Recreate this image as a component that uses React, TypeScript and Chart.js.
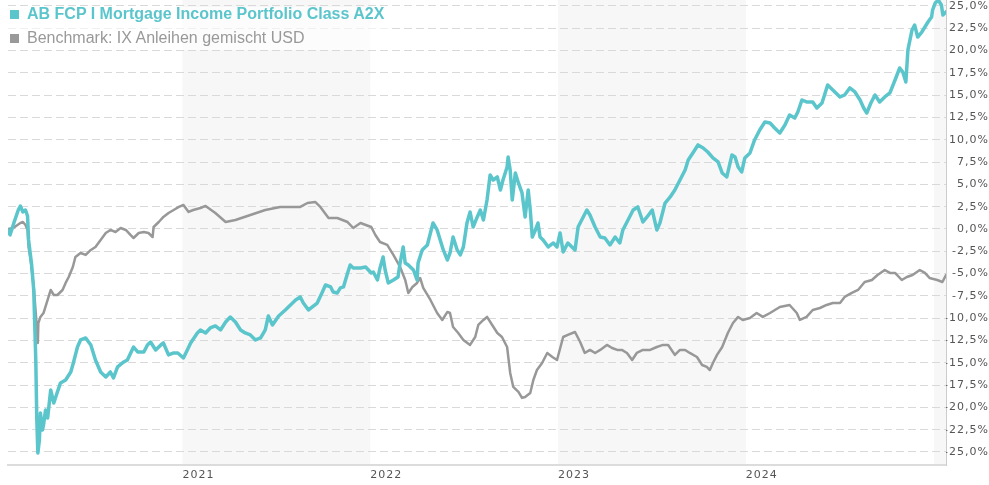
import React, { useEffect, useRef } from "react";
import { Chart, registerables } from "chart.js";

Chart.register(...registerables);

const fundName = "AB FCP I Mortgage Income Portfolio Class A2X";
const benchName = "Benchmark: IX Anleihen gemischt USD";

const fundDates = [
  "2020-01-28","2020-02-01","2020-02-09","2020-02-17","2020-02-21","2020-02-26","2020-03-02","2020-03-06","2020-03-08","2020-03-14",
  "2020-03-18","2020-03-22","2020-03-24","2020-03-26","2020-03-29","2020-03-31","2020-04-04","2020-04-06","2020-04-10","2020-04-14",
  "2020-04-20","2020-04-26","2020-05-03","2020-05-09","2020-05-19","2020-05-29","2020-06-03","2020-06-11","2020-06-17","2020-06-27",
  "2020-07-07","2020-07-16","2020-07-26","2020-08-05","2020-08-14","2020-08-20","2020-08-28","2020-09-09","2020-09-16","2020-09-28",
  "2020-10-06","2020-10-18","2020-10-25","2020-10-31","2020-11-10","2020-11-20","2020-11-25","2020-12-05","2020-12-15","2020-12-23",
  "2021-01-03","2021-01-17","2021-01-30","2021-02-05","2021-02-15","2021-02-24","2021-03-06","2021-03-16","2021-03-26","2021-04-04",
  "2021-04-14","2021-04-24","2021-05-03","2021-05-13","2021-05-23","2021-06-02","2021-06-11","2021-06-17","2021-06-25","2021-07-07",
  "2021-07-20","2021-07-30","2021-08-09","2021-08-18","2021-08-24","2021-09-03","2021-09-20","2021-09-30","2021-10-06","2021-10-16",
  "2021-10-21","2021-10-29","2021-11-04","2021-11-10","2021-11-18","2021-11-23","2021-11-29","2021-12-13","2021-12-23","2022-01-03",
  "2022-01-07","2022-01-15","2022-01-20","2022-01-26","2022-01-30","2022-02-05","2022-02-15","2022-02-24","2022-02-28","2022-03-06",
  "2022-03-10","2022-03-16","2022-03-26","2022-04-02","2022-04-04","2022-04-12","2022-04-22","2022-04-28","2022-05-03","2022-05-11",
  "2022-05-17","2022-05-23","2022-05-31","2022-06-05","2022-06-11","2022-06-19","2022-06-25","2022-07-01","2022-07-08","2022-07-14",
  "2022-07-20","2022-07-28","2022-08-03","2022-08-09","2022-08-16","2022-08-22","2022-08-28","2022-09-05","2022-09-11","2022-09-16",
  "2022-09-24","2022-09-26","2022-09-30","2022-10-04","2022-10-10","2022-10-16","2022-10-23","2022-10-29","2022-11-04","2022-11-08",
  "2022-11-12","2022-11-18","2022-11-23","2022-11-27","2022-12-03","2022-12-13","2022-12-23","2022-12-30","2023-01-05","2023-01-11",
  "2023-01-20","2023-02-03","2023-02-09","2023-02-19","2023-02-26","2023-03-04","2023-03-14","2023-03-24","2023-04-02","2023-04-12",
  "2023-04-22","2023-05-01","2023-05-07","2023-05-17","2023-05-27","2023-06-05","2023-06-15","2023-06-23","2023-07-03","2023-07-12",
  "2023-07-18","2023-07-28","2023-08-07","2023-08-16","2023-08-26","2023-09-05","2023-09-11","2023-09-20","2023-09-30","2023-10-10",
  "2023-10-19","2023-10-29","2023-11-08","2023-11-16","2023-11-25","2023-12-05","2023-12-11","2023-12-17","2023-12-24","2023-12-30",
  "2024-01-09","2024-01-18","2024-01-28","2024-02-07","2024-02-17","2024-02-26","2024-03-07","2024-03-17","2024-03-26","2024-04-05",
  "2024-04-11","2024-04-19","2024-04-28","2024-05-10","2024-05-18","2024-05-28","2024-06-08","2024-06-18","2024-07-02","2024-07-11",
  "2024-07-21","2024-07-31","2024-08-10","2024-08-17","2024-08-23","2024-08-31","2024-09-08","2024-09-17","2024-09-27","2024-10-07",
  "2024-10-17","2024-10-26","2024-11-01","2024-11-07","2024-11-11","2024-11-19","2024-11-24","2024-11-30","2024-12-08","2024-12-14",
  "2024-12-20","2024-12-27","2024-12-29","2025-01-03","2025-01-09","2025-01-15","2025-01-18","2025-01-24"
];

const fundValues = [
  -0.11, -0.67, 0.78, 2.13, 2.58, 1.91, 2.13, 1.46, -1.23, -4.04,
  -6.84, -14.69, -21.41, -25.11, -23.65, -20.63, -22.53, -21.97, -20.29, -21.19,
  -18.05, -19.51, -18.27, -17.26, -16.93, -16.03, -15.02, -13.23, -12.44, -12.22,
  -13.0, -14.69, -16.03, -16.59, -16.03, -16.7, -15.47, -14.91, -14.69, -13.23,
  -13.79, -13.79, -13.0, -12.67, -13.56, -13.0, -12.78, -14.12, -13.9, -13.9,
  -14.46, -12.78, -11.66, -11.32, -11.66, -11.1, -10.87, -11.32, -10.43, -9.87,
  -10.43, -11.32, -11.66, -11.88, -12.44, -12.22, -11.32, -9.75, -10.76, -9.75,
  -9.08, -8.52, -7.96, -7.62, -8.3, -9.08, -8.3, -7.06, -6.28, -6.5,
  -7.06, -7.17, -6.61, -6.5, -4.93, -4.04, -4.37, -4.37, -4.26, -4.93,
  -4.82, -5.72, -4.37, -3.14, -4.6, -6.05, -5.72, -5.38, -3.81, -2.02,
  -3.81, -4.04, -4.6, -5.72, -3.81, -2.35, -1.79, -0.45, 0.67, -0.11,
  -1.23, -2.35, -3.48, -2.69, -0.9, -2.35, -2.91, -2.02, 0.67, 1.91,
  0.22, 1.35, 2.13, 1.01, 3.25, 6.05, 5.49, 5.83, 4.37, 5.49,
  6.95, 8.07, 6.61, 3.25, 6.28, 5.16, 4.04, 1.35, 4.37, 2.13,
  -0.9, -0.11, 0.67, -0.9, -1.23, -2.02, -1.57, -2.02, -0.45, -2.58,
  -1.57, -2.35, 0.22, 1.35, 2.13, 1.57, 0.22, -0.9, -1.01, -1.79,
  -0.9, -1.57, -0.11, 1.01, 2.13, 2.47, 0.78, 1.35, 2.13, -0.11,
  0.67, 2.91, 3.59, 4.37, 5.49, 6.61, 7.73, 8.52, 9.42, 9.08,
  8.63, 7.96, 7.51, 6.28, 5.83, 8.3, 8.07, 6.95, 6.39, 7.96,
  8.52, 9.98, 11.1, 11.99, 11.88, 11.32, 10.76, 11.66, 12.78, 12.44,
  13.12, 14.46, 14.24, 14.24, 13.56, 14.12, 16.14, 15.58, 14.8, 15.02,
  15.81, 15.36, 14.46, 13.56, 13.0, 14.12, 15.02, 14.24, 14.8, 15.25,
  16.7, 18.05, 17.6, 16.48, 20.07, 22.31, 22.87, 21.52, 22.08, 22.64,
  23.2, 23.77, 24.55, 25.33, 25.67, 25.11, 23.99, 24.33
];

const benchDates = [
  "2020-01-28","2020-02-07","2020-02-21","2020-02-26","2020-03-02","2020-03-06","2020-03-08","2020-03-12","2020-03-18","2020-03-22",
  "2020-03-26","2020-03-27","2020-03-31","2020-04-06","2020-04-14","2020-04-20","2020-04-26","2020-05-03","2020-05-13","2020-05-19",
  "2020-05-25","2020-06-02","2020-06-07","2020-06-17","2020-06-27","2020-07-07","2020-07-16","2020-07-26","2020-08-05","2020-08-14",
  "2020-08-24","2020-09-03","2020-09-13","2020-09-22","2020-09-28","2020-10-08","2020-10-18","2020-10-27","2020-11-04","2020-11-06",
  "2020-11-16","2020-11-25","2020-12-05","2020-12-15","2020-12-25","2021-01-03","2021-01-13","2021-01-22","2021-02-05","2021-02-15",
  "2021-03-06","2021-03-26","2021-04-14","2021-05-13","2021-06-11","2021-07-10","2021-07-30","2021-08-18","2021-09-01","2021-09-16",
  "2021-09-26","2021-10-12","2021-10-29","2021-11-18","2021-11-29","2021-12-13","2022-01-03","2022-01-11","2022-01-20","2022-02-03",
  "2022-02-15","2022-02-28","2022-03-10","2022-03-16","2022-03-24","2022-04-02","2022-04-08","2022-04-14","2022-04-28","2022-05-11",
  "2022-05-21","2022-05-31","2022-06-05","2022-06-11","2022-06-21","2022-07-01","2022-07-14","2022-07-24","2022-07-30","2022-08-09",
  "2022-08-16","2022-08-26","2022-09-05","2022-09-14","2022-09-24","2022-09-30","2022-10-06","2022-10-16","2022-10-23","2022-10-29",
  "2022-11-08","2022-11-14","2022-11-21","2022-12-01","2022-12-11","2022-12-21","2022-12-30","2023-01-11","2023-01-20","2023-02-03",
  "2023-02-13","2023-02-22","2023-03-04","2023-03-14","2023-03-24","2023-04-06","2023-04-16","2023-04-26","2023-05-05","2023-05-15",
  "2023-05-25","2023-06-03","2023-06-15","2023-06-29","2023-07-12","2023-07-24","2023-08-03","2023-08-16","2023-08-26","2023-09-05",
  "2023-09-14","2023-09-28","2023-10-08","2023-10-17","2023-10-23","2023-10-29","2023-11-06","2023-11-16","2023-11-27","2023-12-07",
  "2023-12-17","2023-12-26","2024-01-09","2024-01-22","2024-02-03","2024-02-17","2024-03-07","2024-03-26","2024-04-09","2024-04-15",
  "2024-04-28","2024-05-10","2024-05-24","2024-06-06","2024-06-18","2024-07-02","2024-07-11","2024-07-25","2024-08-06","2024-08-19",
  "2024-09-02","2024-09-13","2024-09-27","2024-10-07","2024-10-17","2024-10-30","2024-11-09","2024-11-20","2024-12-04","2024-12-14",
  "2024-12-23","2025-01-07","2025-01-17","2025-01-24"
];

const benchValues = [
  0, 0.11, 0.67, 0.78, 0.45, -0.11, -2.02, -3.48, -6.5, -9.42,
  -12.78, -10.54, -9.86, -9.42, -7.96, -6.84, -7.4, -7.4, -6.84, -6.05,
  -5.38, -4.26, -3.14, -2.69, -2.91, -2.35, -2.02, -1.23, -0.45, -0.11,
  -0.34, 0.11, -0.11, -0.67, -1.01, -0.45, -0.34, -0.45, -0.9, 0.22,
  0.78, 1.35, 1.79, 2.13, 2.47, 2.69, 1.91, 2.13, 2.35, 2.58,
  1.79, 0.78, 1.01, 1.57, 2.13, 2.47, 2.47, 2.47, 2.91, 3.03,
  2.47, 1.23, 1.23, 0.78, 0.11, 0.67, 0.22, -0.67, -1.46, -1.79,
  -2.91, -4.26, -5.72, -7.17, -6.5, -6.05, -5.49, -6.61, -7.96, -9.42,
  -10.2, -9.3, -9.42, -10.99, -11.66, -12.44, -13.0, -12.11, -10.76, -10.2,
  -9.86, -10.76, -11.66, -12.11, -13.23, -16.14, -17.71, -18.27, -18.94, -18.83,
  -18.38, -16.93, -15.81, -15.02, -13.9, -14.35, -14.69, -12.11, -11.88, -11.55,
  -12.67, -13.9, -13.56, -13.9, -13.56, -13.0, -13.34, -13.56, -13.56, -13.9,
  -14.69, -13.9, -13.56, -13.56, -13.23, -13.0, -13.0, -14.12, -13.56, -13.56,
  -13.9, -14.35, -15.25, -15.47, -15.81, -15.02, -14.12, -13.23, -11.66, -10.54,
  -9.86, -10.2, -9.98, -9.42, -9.86, -9.42, -8.74, -8.52, -9.42, -10.2,
  -9.86, -9.08, -8.86, -8.52, -8.3, -8.3, -7.62, -7.17, -6.84, -5.94,
  -5.72, -5.16, -4.6, -4.93, -4.93, -5.72, -5.38, -5.16, -4.6, -4.93,
  -5.49, -5.72, -5.94, -5.16
];

const yearLabels = [2021, 2022, 2023, 2024];
const shadedYears = [2021, 2023, 2025];
const yTickValues = [-25, -22.5, -20, -17.5, -15, -12.5, -10, -7.5, -5, -2.5, 0, 2.5, 5, 7.5, 10, 12.5, 15, 17.5, 20, 22.5, 25];
const axisStart = "2020-01-28";
const axisEnd = "2025-01-24";
const yMin = -26.46;
const yMax = 25.67;

const TEAL = "rgb(91,197,204)";
const GRAY = "rgb(152,152,152)";

const ts = (s: string) => Date.parse(s + "T00:00:00Z");

const bandsPlugin = {
  id: "yearBands",
  beforeUpdate(chart: any) {
    chart.ctx.letterSpacing = "1px";
  },
  beforeDraw(chart: any) {
    const { ctx, chartArea, scales } = chart;
    ctx.letterSpacing = "1px";
    const xs = scales.x;
    ctx.save();
    ctx.fillStyle = "#f7f7f7";
    for (const yr of shadedYears) {
      const a = Math.max(chartArea.left, xs.getPixelForValue(Date.UTC(yr, 0, 1)));
      const b = Math.min(chartArea.right, xs.getPixelForValue(Date.UTC(yr + 1, 0, 1)));
      if (b > a) ctx.fillRect(a, chartArea.top, b - a, chartArea.bottom - chartArea.top);
    }
    ctx.restore();
  },
};

export default function App() {
  const ref = useRef<HTMLCanvasElement>(null);

  useEffect(() => {
    const canvas = ref.current;
    if (!canvas) return;
    const fundData = fundDates.map((d, i) => ({ x: ts(d), y: fundValues[i] }));
    const benchData = benchDates.map((d, i) => ({ x: ts(d), y: benchValues[i] }));
    const tickFont = { family: "'DejaVu Sans', Verdana, sans-serif", size: 11 };
    const chart = new Chart(canvas, {
      type: "line",
      data: {
        datasets: [
          {
            label: fundName,
            data: fundData,
            borderColor: TEAL,
            backgroundColor: TEAL,
            borderWidth: 3.5,
            pointRadius: 0,
            tension: 0,
            borderJoinStyle: "round",
            borderCapStyle: "round",
          },
          {
            label: benchName,
            data: benchData,
            borderColor: GRAY,
            backgroundColor: GRAY,
            borderWidth: 2.5,
            pointRadius: 0,
            tension: 0,
            borderJoinStyle: "round",
            borderCapStyle: "round",
          },
        ],
      },
      options: {
        animation: false,
        responsive: false,
        devicePixelRatio: 1,
        layout: { padding: { left: 8, top: 0, right: 0, bottom: 0 } },
        plugins: { legend: { display: false }, tooltip: { enabled: false } },
        scales: {
          x: {
            type: "linear",
            bounds: "data",
            min: ts(axisStart),
            max: ts(axisEnd),
            afterBuildTicks: (s: any) => {
              s.ticks = yearLabels.map((y) => ({ value: Date.UTC(y, 0, 1) }));
            },
            afterFit: (s: any) => {
              s.height = 20;
              s.paddingLeft = 0;
              s.paddingRight = 0;
            },
            ticks: {
              align: "start",
              padding: 4,
              color: "#555",
              font: tickFont,
              maxRotation: 0,
              autoSkip: false,
              callback: (v: any) => String(new Date(v).getUTCFullYear()),
            },
            grid: { display: false, drawTicks: false },
            border: { display: true, color: "#dcdcdc", width: 2 },
          },
          y: {
            type: "linear",
            position: "right",
            bounds: "data",
            min: yMin,
            max: yMax,
            afterBuildTicks: (s: any) => {
              s.ticks = yTickValues.map((v) => ({ value: v }));
            },
            afterFit: (s: any) => {
              s.width = 43;
              s.paddingTop = 0;
              s.paddingBottom = 0;
            },
            ticks: {
              crossAlign: "far",
              padding: 0,
              color: "#555",
              font: tickFont,
              autoSkip: false,
              callback: (v: any) => Number(v).toFixed(1).replace(".", ",") + "%",
            },
            grid: { color: "#d9d9d9", lineWidth: 1, drawTicks: false },
            border: { display: true, color: "#cccccc", width: 1, dash: [8, 4] },
          },
        },
      },
      plugins: [bandsPlugin],
    } as any);
    return () => chart.destroy();
  }, []);

  const sq = (c: string) => (
    <span
      style={{
        display: "inline-block",
        width: 9,
        height: 9,
        background: c,
        marginRight: 8,
        verticalAlign: "baseline",
      }}
    />
  );

  return (
    <div style={{ position: "fixed", left: 0, top: 0, width: 989, height: 485, overflow: "hidden", background: "#fff" }}>
      <canvas ref={ref} width={989} height={485} style={{ display: "block", width: 989, height: 485 }} />
      <div
        style={{
          position: "absolute",
          left: 8,
          top: 7,
          width: 380,
          height: 43,
          background: "rgba(255,255,255,0.6)",
        }}
      />
      <div
        style={{
          position: "absolute",
          left: 10,
          top: 5,
          lineHeight: "18px",
          fontFamily: "'Liberation Sans', Arial, sans-serif",
          fontSize: 16,
          fontWeight: "bold",
          color: TEAL,
          whiteSpace: "nowrap",
        }}
      >
        {sq(TEAL)}
        {fundName}
      </div>
      <div
        style={{
          position: "absolute",
          left: 10,
          top: 29,
          lineHeight: "18px",
          fontFamily: "'Liberation Sans', Arial, sans-serif",
          fontSize: 16,
          color: "#999",
          whiteSpace: "nowrap",
        }}
      >
        {sq("#999")}
        {benchName}
      </div>
    </div>
  );
}
